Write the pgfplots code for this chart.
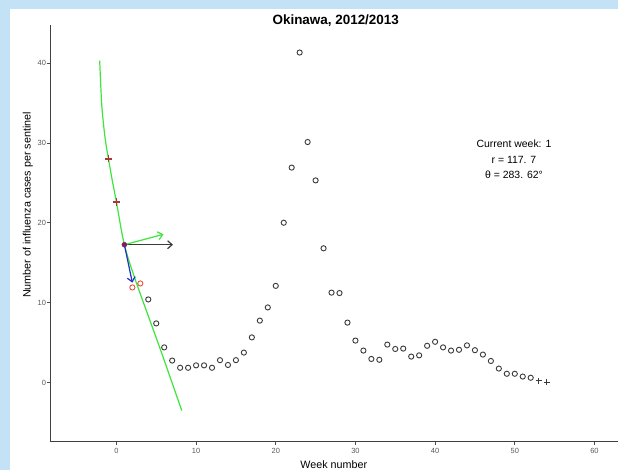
\documentclass[border=0pt]{standalone}
\usepackage{pgfplots}
\pgfplotsset{compat=1.18}
\usepackage{fontspec}
\setmainfont{Liberation Sans}
\usetikzlibrary{arrows.meta}

\definecolor{seablue}{HTML}{C4E2F5}
\definecolor{ptgray}{HTML}{3A3A3A}
\definecolor{fitgreen}{HTML}{3CE63C}
\definecolor{pastred}{HTML}{A83838}
\definecolor{nowpurple}{HTML}{7A1F66}
\definecolor{nextred}{HTML}{E5533C}
\definecolor{arrblue}{HTML}{2430C8}

% weekly cases per sentinel, weeks 4--52
\pgfplotstableread{
week cases
4 10.4
5 7.4
6 4.4
7 2.75
8 1.85
9 1.85
10 2.15
11 2.15
12 1.85
13 2.8
14 2.2
15 2.8
16 3.75
17 5.65
18 7.75
19 9.4
20 12.1
21 20.0
22 26.9
23 41.3
24 30.1
25 25.3
26 16.8
27 11.25
28 11.2
29 7.5
30 5.25
31 4.0
32 2.95
33 2.85
34 4.75
35 4.2
36 4.25
37 3.25
38 3.4
39 4.6
40 5.1
41 4.4
42 4.0
43 4.1
44 4.65
45 4.05
46 3.5
47 2.7
48 1.75
49 1.1
50 1.1
51 0.75
52 0.6
}\seasondata

\begin{document}
\begin{tikzpicture}[x=1bp,y=1bp]
\fill[seablue] (0,0) rectangle (618,470);
\fill[white] (10,0) rectangle (618,461);

\begin{axis}[
  at={(50bp,28bp)}, anchor=south west,
  scale only axis, width=568bp, height=417bp,
  xmin=-8.34, xmax=62.9, ymin=-7.4, ymax=44.75,
  axis lines=left,
  axis line style={-, draw=black!75, line width=0.9bp},
  xtick={0,10,...,60}, ytick={0,10,...,40},
  tick align=outside, major tick length=3bp,
  tick style={black!70, line width=0.6bp},
  /pgf/number format/assume math mode=true,
  tick label style={font=\fontsize{7.5}{9}\selectfont, text=black!65},
  yticklabel style={xshift=2.5bp},
  xlabel={Week number},
  ylabel={Number of influenza cases per sentinel},
  label style={font=\fontsize{10.8}{13}\selectfont},
  xlabel style={at={(axis description cs:0.5,-0.054)}, anchor=center},
  ylabel style={at={(axis description cs:-0.039,0.568)}, anchor=center},
  clip=false,
]

% fitted trajectory
\addplot[fitgreen, line width=1.2bp, smooth, tension=0.5] coordinates {
  (-2.1,40.3) (-1.83,34.6) (-1.42,30.6) (-1.0,28.0) (-0.52,25.3)
  (0,22.6) (1,17.25) (2.5,12.5) (5.5,4.2) (8.2,-3.5)
};

% direction vectors at the current week
\addplot[ptgray, line width=1.2bp, -{Straight Barb[length=4.5bp,width=8bp]}]
  coordinates {(1,17.25) (7.1,17.25)};
\addplot[fitgreen, line width=1.2bp, -{Straight Barb[length=4.5bp,width=8bp]}]
  coordinates {(1,17.25) (5.9,18.55)};
\addplot[arrblue, line width=1.2bp, -{Straight Barb[length=4.5bp,width=8bp]}]
  coordinates {(1,17.25) (2.0,12.5)};

% season observations
\addplot[only marks, mark=o, mark size=2.6bp, ptgray,
  mark options={line width=0.9bp}] table[x=week, y=cases] {\seasondata};
\addplot[only marks, mark=+, mark size=3bp, ptgray,
  mark options={line width=1bp}] coordinates {(53,0.25) (54,0.05)};

% upcoming weeks
\addplot[only marks, mark=o, mark size=2.6bp, nextred,
  mark options={line width=0.9bp}] coordinates {(2,11.9) (3,12.4)};

% previous weeks
\addplot[only marks, mark=+, mark size=3.6bp, pastred,
  mark options={line width=1.8bp}] coordinates {(-1,28.0) (0,22.6)};

% current week
\addplot[only marks, mark=*, mark size=2.5bp, nowpurple] coordinates {(1,17.25)};

\node[align=center, font=\fontsize{10.5}{15.5}\selectfont] at (axis cs:49.9,27.9)
  {Current week: 1\\ r = 117. 7\\ θ = 283. 62°};
\end{axis}

\node[font=\bfseries\fontsize{13.5}{16}\selectfont] at (336,449) {Okinawa, 2012/2013};
\end{tikzpicture}
\end{document}
